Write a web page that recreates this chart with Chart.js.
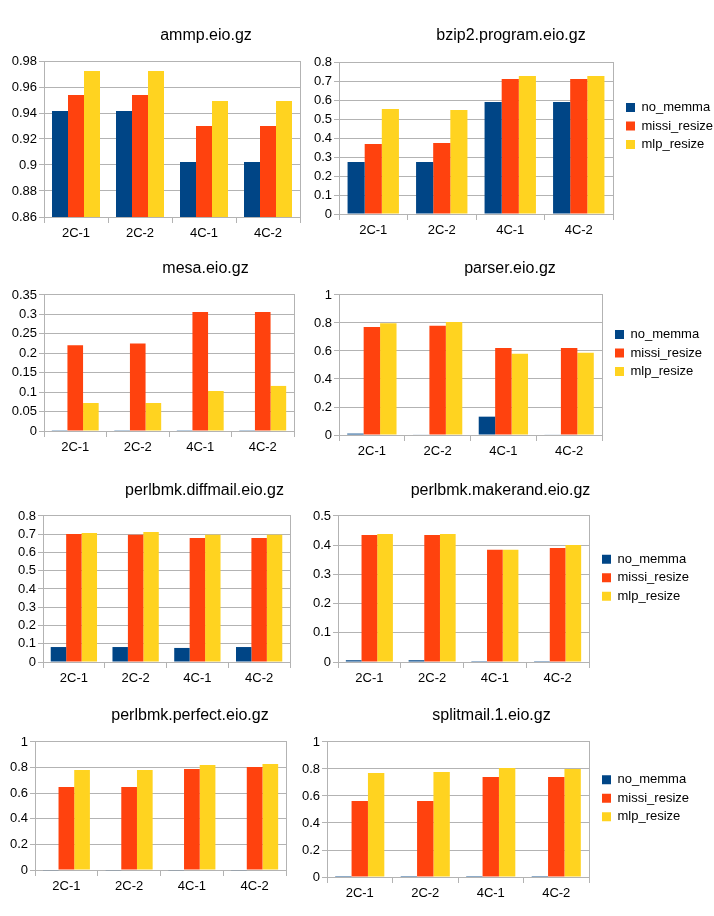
<!DOCTYPE html>
<html><head><meta charset="utf-8">
<script src="https://cdn.jsdelivr.net/npm/chart.js@4.4.1/dist/chart.umd.min.js"></script>
<style>
html,body{margin:0;padding:0;background:#fff;width:714px;height:916px;overflow:hidden;position:relative}
canvas{position:absolute}
</style></head><body>
<script>
const categories = ['2C-1', '2C-2', '4C-1', '4C-2'];
const seriesNames = ['no_memma', 'missi_resize', 'mlp_resize'];
const seriesColors = ['#004586', '#ff420e', '#ffd320'];
const chartTitles = ['ammp.eio.gz', 'bzip2.program.eio.gz', 'mesa.eio.gz', 'parser.eio.gz',
  'perlbmk.diffmail.eio.gz', 'perlbmk.makerand.eio.gz', 'perlbmk.perfect.eio.gz', 'splitmail.1.eio.gz'];

const ammpNoMemma = [0.9415, 0.9415, 0.9023, 0.9023];
const ammpMissi   = [0.9538, 0.9538, 0.930, 0.930];
const ammpMlp     = [0.9723, 0.9723, 0.9492, 0.9492];

const bzip2NoMemma = [0.274, 0.274, 0.589, 0.589];
const bzip2Missi   = [0.368, 0.374, 0.710, 0.710];
const bzip2Mlp     = [0.553, 0.547, 0.726, 0.726];

const mesaNoMemma = [0.002, 0.002, 0.002, 0.002];
const mesaMissi   = [0.221, 0.225, 0.306, 0.306];
const mesaMlp     = [0.072, 0.072, 0.103, 0.116];

const parserNoMemma = [0.010, 0.003, 0.131, 0.003];
const parserMissi   = [0.771, 0.781, 0.621, 0.621];
const parserMlp     = [0.798, 0.807, 0.581, 0.588];

const diffmailNoMemma = [0.082, 0.082, 0.077, 0.082];
const diffmailMissi   = [0.701, 0.697, 0.679, 0.679];
const diffmailMlp     = [0.707, 0.712, 0.697, 0.697];

const makerandNoMemma = [0.006, 0.006, 0.003, 0.003];
const makerandMissi   = [0.435, 0.435, 0.384, 0.390];
const makerandMlp     = [0.438, 0.438, 0.384, 0.401];

const perfectNoMemma = [-0.005, -0.005, -0.005, -0.005];
const perfectMissi   = [0.648, 0.648, 0.789, 0.805];
const perfectMlp     = [0.781, 0.781, 0.820, 0.828];

const splitmailNoMemma = [0.007, 0.007, 0.007, 0.007];
const splitmailMissi   = [0.563, 0.563, 0.741, 0.741];
const splitmailMlp     = [0.770, 0.778, 0.807, 0.800];

const chartValues = [
  [ammpNoMemma, ammpMissi, ammpMlp],
  [bzip2NoMemma, bzip2Missi, bzip2Mlp],
  [mesaNoMemma, mesaMissi, mesaMlp],
  [parserNoMemma, parserMissi, parserMlp],
  [diffmailNoMemma, diffmailMissi, diffmailMlp],
  [makerandNoMemma, makerandMissi, makerandMlp],
  [perfectNoMemma, perfectMissi, perfectMlp],
  [splitmailNoMemma, splitmailMissi, splitmailMlp]
];

const yMin  = [0.86, 0, 0, 0, 0, 0, 0, 0];
const yMax  = [0.98, 0.8, 0.35, 1, 0.8, 0.5, 1, 1];
const yStep = [0.02, 0.1, 0.05, 0.2, 0.1, 0.1, 0.2, 0.2];
const showLegend = [false, true, false, true, false, true, false, true];

// layout frames (plot rectangle, title centre, legend first-box position)
const frames = [
  {plotL: 44,  plotT: 61,  plotR: 300, plotB: 217, titleX: 206, titleY: 36},
  {plotL: 339, plotT: 62,  plotR: 613, plotB: 214, titleX: 511, titleY: 36, legendX: 626, legendY: 107.5},
  {plotL: 44,  plotT: 295, plotR: 294, plotB: 431, titleX: 205.5, titleY: 268.5},
  {plotL: 339, plotT: 295, plotR: 602, plotB: 435, titleX: 510, titleY: 268.5, legendX: 615, legendY: 334.5},
  {plotL: 43,  plotT: 516, plotR: 290, plotB: 662, titleX: 204.5, titleY: 491},
  {plotL: 338, plotT: 516, plotR: 589, plotB: 662, titleX: 500.5, titleY: 491, legendX: 602, legendY: 559.2},
  {plotL: 35,  plotT: 742, plotR: 286, plotB: 870, titleX: 190, titleY: 716},
  {plotL: 327, plotT: 742, plotR: 589, plotB: 877, titleX: 491.5, titleY: 716, legendX: 602, legendY: 779.8}
];

const GRID = '#b3b3b3';
const FONT = "'Liberation Sans', Arial, sans-serif";
const LEGEND_PAD = 5.5;
const LEGEND_W = 100;
Chart.defaults.font.family = FONT;
Chart.defaults.color = '#000';

function fmt(v) { return String(parseFloat(Number(v).toFixed(4))); }

frames.forEach((f, i) => {
  const top = Math.round(f.titleY - 14);
  const padTop = f.titleY - 9.6 - top;
  const padBottom = f.plotT - f.titleY - 9.6;
  const bottom = Math.round(f.plotB + 30);
  const height = bottom - top;
  const xH = bottom - f.plotB;
  let left, right, y2W, legendSpacer = 0, legendW = 0;
  if (showLegend[i]) {
    const legendLeft = f.legendX - LEGEND_PAD;
    right = Math.round(legendLeft + LEGEND_W);
    left = Math.round(2 * f.titleX - right);
    y2W = legendLeft - f.plotR;
    legendW = right - legendLeft;
    legendSpacer = (f.legendY - f.plotT - LEGEND_PAD - 6.5) - 14.4;
  } else {
    left = 0;
    right = Math.round(2 * f.titleX);
    y2W = right - f.plotR;
  }
  const width = right - left;
  const yW = f.plotL - left;
  const tickCount = Math.round((yMax[i] - yMin[i]) / yStep[i]) + 1;

  const cv = document.createElement('canvas');
  cv.width = width; cv.height = height;
  cv.style.left = left + 'px'; cv.style.top = top + 'px';
  cv.style.width = width + 'px'; cv.style.height = height + 'px';
  document.body.appendChild(cv);

  const fixLegendWidth = {
    id: 'fixLegendWidth',
    afterInit(chart) {
      const lg = chart.legend;
      if (!lg || !showLegend[i]) return;
      const origFit = lg.fit;
      lg.fit = function () { origFit.call(this); this.width = legendW; };
    }
  };

  new Chart(cv, {
    type: 'bar',
    data: {
      labels: categories,
      datasets: seriesNames.map((name, s) => ({
        label: name,
        data: chartValues[i][s],
        backgroundColor: seriesColors[s],
        borderWidth: 0,
        barPercentage: 1.0,
        categoryPercentage: 0.75,
        clip: yMin[i] === 0 ? {left: 0, top: 0, right: 0, bottom: 2} : 0
      }))
    },
    plugins: [fixLegendWidth],
    options: {
      responsive: false,
      animation: false,
      devicePixelRatio: 1,
      layout: {padding: 0},
      plugins: {
        tooltip: {enabled: false},
        title: {
          display: true, text: chartTitles[i], color: '#000',
          font: {size: 16, weight: 'normal', lineHeight: 1.2},
          padding: {top: padTop, bottom: padBottom}
        },
        legend: {
          display: showLegend[i],
          position: 'right',
          align: 'start',
          fullSize: false,
          title: {display: true, text: ' ', font: {size: 12, lineHeight: 1.2}, padding: {top: legendSpacer, bottom: 0}},
          labels: {boxWidth: 9, boxHeight: 9, padding: LEGEND_PAD, color: '#000', font: {size: 13}}
        }
      },
      scales: {
        x: {
          offset: true,
          grid: {offset: true, drawOnChartArea: false, drawTicks: true, tickLength: 6, color: GRID},
          border: {display: true, color: GRID},
          ticks: {font: {size: 13}, padding: 3, color: '#000', maxRotation: 0, autoSkip: false},
          afterFit: s => { s.height = xH; }
        },
        y: {
          min: yMin[i], max: yMax[i],
          grid: {color: GRID, drawTicks: true, tickLength: 5},
          border: {display: true, color: GRID},
          ticks: {count: tickCount, autoSkip: false, font: {size: 13}, padding: 2, color: '#000', callback: v => fmt(v)},
          afterFit: s => { s.width = yW; }
        },
        y2: {
          position: 'right', display: true,
          grid: {display: false, drawTicks: false},
          border: {display: true, color: GRID},
          ticks: {display: false},
          afterFit: s => { s.width = y2W; }
        }
      }
    }
  });
});
</script>
</body></html>
